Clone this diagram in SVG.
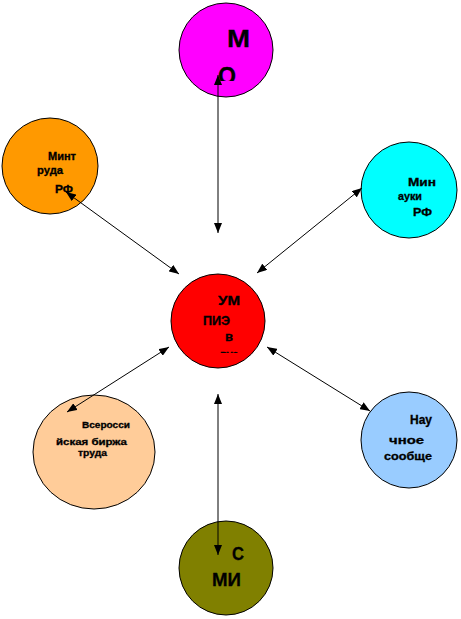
<svg xmlns="http://www.w3.org/2000/svg" width="461" height="619" viewBox="0 0 461 619">
<style>
.n{stroke:#000;stroke-width:1}
.t{font-family:"Liberation Sans",Arial,sans-serif;font-weight:bold;fill:#000;stroke:#000;stroke-width:0.3}
.c line{stroke:#000;stroke-width:1;marker-start:url(#a);marker-end:url(#a)}
</style>
<defs>
<marker id="a" viewBox="0 0 10 8" refX="10" refY="4" markerWidth="10" markerHeight="8" markerUnits="userSpaceOnUse" orient="auto-start-reverse"><path d="M0,0L10,4L0,8z" fill="#000"/></marker>
<clipPath id="cm"><rect x="170" y="0" width="110" height="81"/></clipPath>
<clipPath id="cr"><rect x="170" y="270" width="100" height="83"/></clipPath>
</defs>
<rect width="461" height="619" fill="#fff"/>
<g id="mo">
<circle class="n" cx="226" cy="50" r="47" fill="#ff00ff"/>
<g clip-path="url(#cm)">
<text class="t" x="227" y="47" font-size="24" textLength="23" lengthAdjust="spacingAndGlyphs">М</text>
<text class="t" x="218" y="84" font-size="24" textLength="18" lengthAdjust="spacingAndGlyphs">О</text>
</g>
</g>
<g id="mintruda">
<circle class="n" cx="50" cy="166" r="48" fill="#ff9900"/>
<text class="t" x="48" y="160" font-size="10" textLength="28" lengthAdjust="spacingAndGlyphs">Минт</text>
<text class="t" x="37" y="174" font-size="10" textLength="26" lengthAdjust="spacingAndGlyphs">руда</text>
<text class="t" x="55" y="193" font-size="11" textLength="18" lengthAdjust="spacingAndGlyphs">РФ</text>
</g>
<g id="minobr">
<circle class="n" cx="409" cy="190" r="48" fill="#00ffff"/>
<text class="t" x="408" y="186" font-size="10" textLength="28" lengthAdjust="spacingAndGlyphs">Мин</text>
<text class="t" x="398" y="200" font-size="10" textLength="24" lengthAdjust="spacingAndGlyphs">ауки</text>
<text class="t" x="413" y="216" font-size="11" textLength="19" lengthAdjust="spacingAndGlyphs">РФ</text>
</g>
<g id="umpie">
<circle class="n" cx="218" cy="321" r="47" fill="#ff0000"/>
<g clip-path="url(#cr)">
<text class="t" x="218" y="305" font-size="12" textLength="22" lengthAdjust="spacingAndGlyphs">УМ</text>
<text class="t" x="203" y="325" font-size="12" textLength="27" lengthAdjust="spacingAndGlyphs">ПИЭ</text>
<text class="t" x="225" y="341" font-size="12" textLength="8" lengthAdjust="spacingAndGlyphs">в</text>
<text class="t" x="220" y="358" font-size="11" textLength="18" lengthAdjust="spacingAndGlyphs">вуз</text>
</g>
</g>
<g id="birzha">
<ellipse class="n" cx="94" cy="452" rx="61" ry="57" fill="#ffcc99"/>
<text class="t" x="82" y="428" font-size="9" textLength="48" lengthAdjust="spacingAndGlyphs">Всеросси</text>
<text class="t" x="56" y="445" font-size="9" textLength="71" lengthAdjust="spacingAndGlyphs">йская биржа</text>
<text class="t" x="78" y="456" font-size="9" textLength="29" lengthAdjust="spacingAndGlyphs">труда</text>
</g>
<g id="nauka">
<circle class="n" cx="409" cy="440" r="48" fill="#99ccff"/>
<text class="t" x="410" y="424" font-size="12" textLength="22" lengthAdjust="spacingAndGlyphs">Нау</text>
<text class="t" x="389" y="444" font-size="11" textLength="35" lengthAdjust="spacingAndGlyphs">чное</text>
<text class="t" x="384" y="460" font-size="11" textLength="48" lengthAdjust="spacingAndGlyphs">сообще</text>
</g>
<g id="smi">
<circle class="n" cx="226" cy="568" r="47" fill="#808000"/>
<text class="t" x="232" y="560" font-size="18" textLength="12" lengthAdjust="spacingAndGlyphs">С</text>
<text class="t" x="212" y="586" font-size="18" textLength="29" lengthAdjust="spacingAndGlyphs">МИ</text>
</g>
<g id="connectors" class="c">
<line x1="218" y1="75" x2="218" y2="233"/>
<line x1="66" y1="192" x2="179" y2="274"/>
<line x1="362" y1="188" x2="257" y2="273"/>
<line x1="169" y1="347" x2="67" y2="412"/>
<line x1="267" y1="347" x2="370" y2="411"/>
<line x1="218" y1="394" x2="218" y2="555"/>
</g>
</svg>
